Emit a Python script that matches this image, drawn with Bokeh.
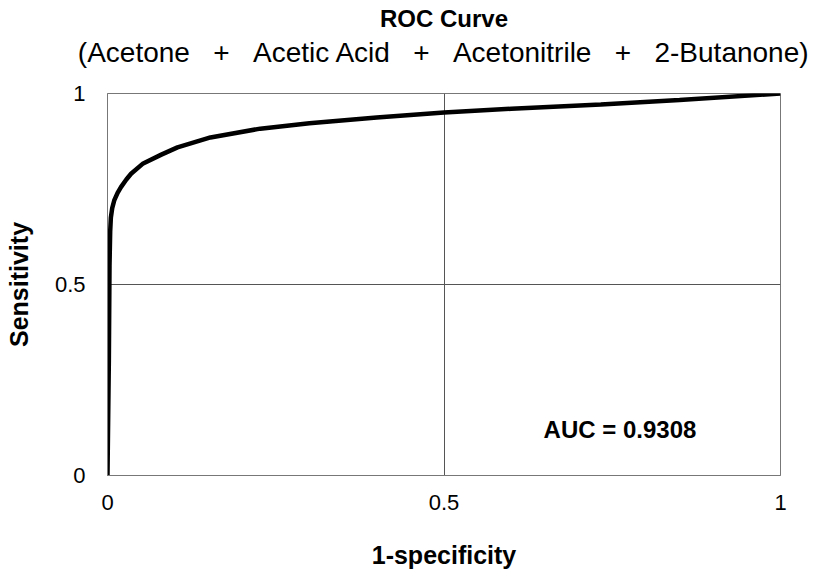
from bokeh.plotting import figure
from bokeh.models import Label, Range1d, FixedTicker, Title, LinearAxis
from bokeh.embed import file_html
from bokeh.resources import INLINE

# ROC curve points
fpr = [0.0, 0.002, 0.003, 0.004, 0.005, 0.007, 0.010, 0.015, 0.020, 0.028, 0.035,
       0.053, 0.080, 0.104, 0.153, 0.227, 0.300, 0.400, 0.500, 0.600, 0.733, 0.850, 1.0]
tpr = [0.0, 0.30, 0.55, 0.64, 0.675, 0.70, 0.72, 0.74, 0.755, 0.775, 0.79,
       0.817, 0.840, 0.859, 0.885, 0.908, 0.922, 0.937, 0.950, 0.960, 0.971, 0.983, 1.0]
ticks = [0, 0.5, 1]
tick_labels = {0: "0", 0.5: "0.5", 1: "1"}
title_text = "ROC Curve"
subtitle_text = "(Acetone + Acetic Acid + Acetonitrile + 2-Butanone)"
auc_text = "AUC = 0.9308"

# wide gaps around the plus signs, as in the original
subtitle_display = subtitle_text.replace(" + ", "\u00a0\u00a0\u00a0+\u00a0\u00a0\u00a0")

FONT = "Liberation Sans"
W, H = 819, 572
p = figure(width=W, height=H, output_backend="svg", toolbar_location=None,
           x_range=Range1d(0, 1), y_range=Range1d(0, 1),
           min_border_left=107, min_border_right=39, min_border_top=93, min_border_bottom=97)
p.background_fill_color = "white"
p.border_fill_color = "white"
p.outline_line_color = "#777777"
p.outline_line_width = 1

for ax in (p.xaxis[0], p.yaxis[0]):
    ax.ticker = FixedTicker(ticks=ticks)
    ax.major_label_overrides = tick_labels
    ax.major_tick_line_color = None
    ax.minor_tick_line_color = None
    ax.axis_line_color = "#777777"
    ax.major_label_text_font = FONT
    ax.major_label_text_font_size = "22px"
    ax.major_label_text_color = "black"
    ax.axis_label_text_font = FONT
    ax.axis_label_text_font_size = "25px"
    ax.axis_label_text_font_style = "bold"
    ax.axis_label_text_color = "black"

p.xaxis.axis_label = "1-specificity"
p.yaxis.axis_label = "Sensitivity"
p.xaxis.major_label_standoff = 13
p.yaxis.major_label_standoff = 16
p.xaxis.axis_label_standoff = 28
p.yaxis.axis_label_standoff = 19

p.xgrid.ticker = FixedTicker(ticks=[0.5])
p.ygrid.ticker = FixedTicker(ticks=[0.5])
p.grid.grid_line_color = "#555555"
p.grid.grid_line_width = 1

p.line(fpr, tpr, line_color="black", line_width=4.5)

# subtitle carried by a bare axis above the frame (no ticks, no line)
sub_axis = LinearAxis(ticker=FixedTicker(ticks=[]), axis_line_color=None,
                      major_tick_line_color=None, minor_tick_line_color=None,
                      major_tick_out=0, major_tick_in=0, minor_tick_out=0,
                      major_label_standoff=0, major_label_text_font_size="0px",
                      axis_label=subtitle_display, axis_label_standoff=26,
                      axis_label_text_font=FONT, axis_label_text_font_size="28px",
                      axis_label_text_font_style="normal", axis_label_text_color="black")
p.add_layout(sub_axis, "above")

p.title = Title(text=title_text, align="center", text_font=FONT, text_font_size="24px",
                text_font_style="bold", text_color="black", standoff=4)
p.add_layout(Label(x=0.648, y=0.12, text=auc_text, text_align="left", text_baseline="middle",
                   text_font=FONT, text_font_size="24px", text_font_style="bold", text_color="black"))

open("out.html", "w").write(file_html(p, INLINE))
